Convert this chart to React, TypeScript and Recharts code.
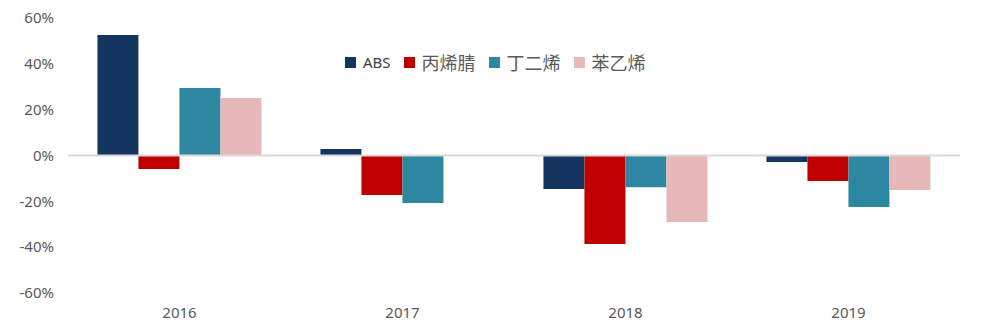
import { Bar, BarChart, Legend, ReferenceLine, XAxis, YAxis } from "recharts";

const years = ["2016", "2017", "2018", "2019"];
const abs = [0.526, 0.028, -0.146, -0.028];
const acrylonitrile = [-0.059, -0.172, -0.386, -0.111];
const butadiene = [0.295, -0.207, -0.138, -0.225];
const styrene = [0.251, 0, -0.29, -0.151];
const yTicks = [-0.6, -0.4, -0.2, 0, 0.2, 0.4, 0.6];

const series = [
  { key: "abs", name: "ABS", color: "#133560" },
  { key: "acrylonitrile", name: "丙烯腈", color: "#c00000" },
  { key: "butadiene", name: "丁二烯", color: "#2e87a0" },
  { key: "styrene", name: "苯乙烯", color: "#e7b8b8" },
];

const data = years.map((year, i) => ({
  year,
  abs: abs[i],
  acrylonitrile: acrylonitrile[i],
  butadiene: butadiene[i],
  styrene: styrene[i],
}));

const pct = (v: number) => `${Math.round(v * 100)}%`;

function LegendBox() {
  return (
    <div style={{ display: "flex", alignItems: "center", whiteSpace: "nowrap" }}>
      {series.map((s) => (
        <div key={s.key} style={{ display: "flex", alignItems: "center", marginRight: 13 }}>
          <span style={{ width: 11, height: 11, background: s.color, display: "inline-block", marginRight: 7 }} />
          <span
            style={
              s.key === "abs"
                ? { fontFamily: "'Noto Sans', sans-serif", fontSize: 15, color: "#404040" }
                : { fontFamily: "'Noto Sans CJK SC', sans-serif", fontSize: 18, color: "#595959" }
            }
          >
            {s.name}
          </span>
        </div>
      ))}
    </div>
  );
}

export default function App() {
  return (
    <div style={{ position: "absolute", left: 0, top: 0, background: "#fff" }}>
      <BarChart
        width={984}
        height={335}
        data={data}
        margin={{ top: 18, right: 24, bottom: 0, left: 0 }}
        barCategoryGap="13.2%"
        barGap={0}
      >
        <XAxis
          dataKey="year"
          axisLine={false}
          tickLine={false}
          height={42}
          tickMargin={8}
          tick={{ fill: "#595959", fontSize: 15, fontFamily: "'Noto Sans', sans-serif" }}
        />
        <YAxis
          domain={[-0.6, 0.6]}
          ticks={yTicks}
          tickFormatter={pct}
          axisLine={false}
          tickLine={false}
          width={68}
          tickMargin={8}
          tick={{ fill: "#595959", fontSize: 15, fontFamily: "'Noto Sans', sans-serif" }}
        />
        <ReferenceLine y={0} stroke="#d9d9d9" strokeWidth={2} />
        <Legend
          layout="horizontal"
          verticalAlign="middle"
          align="center"
          content={() => <LegendBox />}
          wrapperStyle={{ top: 49, left: 345, width: "auto" }}
        />
        {series.map((s) => (
          <Bar key={s.key} dataKey={s.key} name={s.name} fill={s.color} isAnimationActive={false} />
        ))}
      </BarChart>
    </div>
  );
}
